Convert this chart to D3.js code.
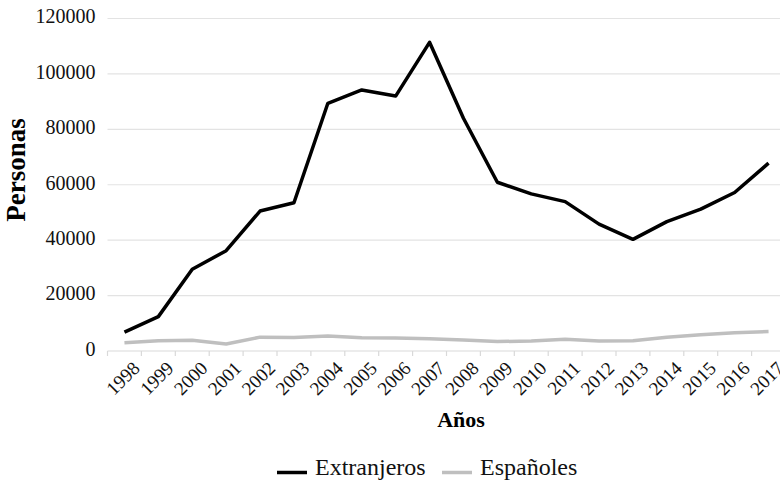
<!DOCTYPE html>
<html>
<head>
<meta charset="utf-8">
<script src="https://cdn.jsdelivr.net/npm/d3@7"></script>
<style>
  body { margin: 0; background: #fff; }
  svg, svg text { font-family: "Liberation Serif", "DejaVu Serif", serif; }
  .grid line { stroke: #e3e3e3; stroke-width: 1.2; }
</style>
</head>
<body>
<div id="chart"></div>
<script>
const years = ["1998","1999","2000","2001","2002","2003","2004","2005","2006","2007",
  "2008","2009","2010","2011","2012","2013","2014","2015","2016","2017"]
const extranjeros = [6800, 12400, 29500, 36200, 50500, 53500, 89400, 94200, 92000, 111400,
  84000, 60900, 56700, 53900, 45800, 40300, 46700, 51200, 57200, 67800]
const espanoles = [3000, 3700, 3900, 2500, 5000, 4900, 5400, 4800, 4700, 4400,
  4000, 3400, 3600, 4200, 3600, 3700, 5000, 5900, 6600, 7000]
const yTicks = [0, 20000, 40000, 60000, 80000, 100000, 120000]

const serif = "Liberation Serif"
const width = 780
const height = 480
const margin = { top: 18.5, bottom: 129, right: -5.5, left: 107.5 }
const innerW = width - margin.left - margin.right
const innerH = height - margin.top - margin.bottom

const svg = d3.select("#chart").append("svg").attr("width", width).attr("height", height)
const g = svg.append("g").attr("transform", `translate(${margin.left}, ${margin.top})`)

//escalas
const x = d3.scaleBand().domain(years).range([0, innerW])
const y = d3.scaleLinear().domain([0, 120000]).range([innerH, 0])

//rejilla
g.append("g").attr("class", "grid")
  .selectAll("line").data(yTicks.slice(1)).enter().append("line")
  .attr("x1", 0).attr("x2", innerW)
  .attr("y1", d => y(d)).attr("y2", d => y(d))

//eje y
const yAxisG = g.append("g")
  .call(d3.axisLeft(y).tickValues(yTicks).tickFormat(d3.format("d")).tickSize(0).tickPadding(12))
  .attr("font-family", serif)
yAxisG.select(".domain").remove()
yAxisG.selectAll("text").attr("font-size", 20).attr("fill", "#111").attr("dy", "0.22em")

//eje x
const xAxisG = g.append("g").attr("transform", `translate(0, ${innerH})`)
xAxisG.append("line").attr("x1", 0).attr("x2", innerW).attr("stroke", "#d9d9d9").attr("stroke-width", 1.2)
xAxisG.selectAll(".tk").data(d3.range(years.length + 1)).enter().append("line")
  .attr("x1", i => i * x.step()).attr("x2", i => i * x.step())
  .attr("y1", 0).attr("y2", 5).attr("stroke", "#d9d9d9").attr("stroke-width", 1.2)
xAxisG.selectAll(".lbl").data(years).enter().append("text")
  .attr("transform", d => `translate(${x(d) + x.bandwidth() / 2 + 7}, 9) rotate(-45)`)
  .attr("text-anchor", "end")
  .attr("dy", "0.7em")
  .attr("font-family", serif)
  .attr("font-size", 19)
  .attr("fill", "#111")
  .text(d => d)

//lineas
const line = d3.line().x((d, i) => x(years[i]) + x.bandwidth() / 2).y(d => y(d))
g.append("path").datum(espanoles).attr("d", line)
  .attr("fill", "none").attr("stroke", "#bfbfbf").attr("stroke-width", 3.5).attr("stroke-linejoin", "round")
g.append("path").datum(extranjeros).attr("d", line)
  .attr("fill", "none").attr("stroke", "#000").attr("stroke-width", 3.5).attr("stroke-linejoin", "round")

//titulos
svg.append("text").text("Personas")
  .attr("transform", "translate(25, 170) rotate(-90)")
  .attr("text-anchor", "middle").attr("font-family", serif).attr("font-size", 27).attr("font-weight", "bold")
svg.append("text").text("Años")
  .attr("x", 461).attr("y", 427)
  .attr("text-anchor", "middle").attr("font-family", serif).attr("font-size", 22).attr("font-weight", "bold")

//leyenda
const legend = [
  { name: "Extranjeros", color: "#000", x: 277 },
  { name: "Españoles", color: "#bfbfbf", x: 442 }
]
const lg = svg.append("g").selectAll("g").data(legend).enter().append("g")
  .attr("transform", d => `translate(${d.x}, 472.5)`)
lg.append("line").attr("x1", 0).attr("x2", 30).attr("y1", 0).attr("y2", 0)
  .attr("stroke", d => d.color).attr("stroke-width", 3.5)
lg.append("text").text(d => d.name).attr("x", 38).attr("y", 2.5)
  .attr("font-family", serif).attr("font-size", 24).attr("fill", "#111")
</script>
</body>
</html>
